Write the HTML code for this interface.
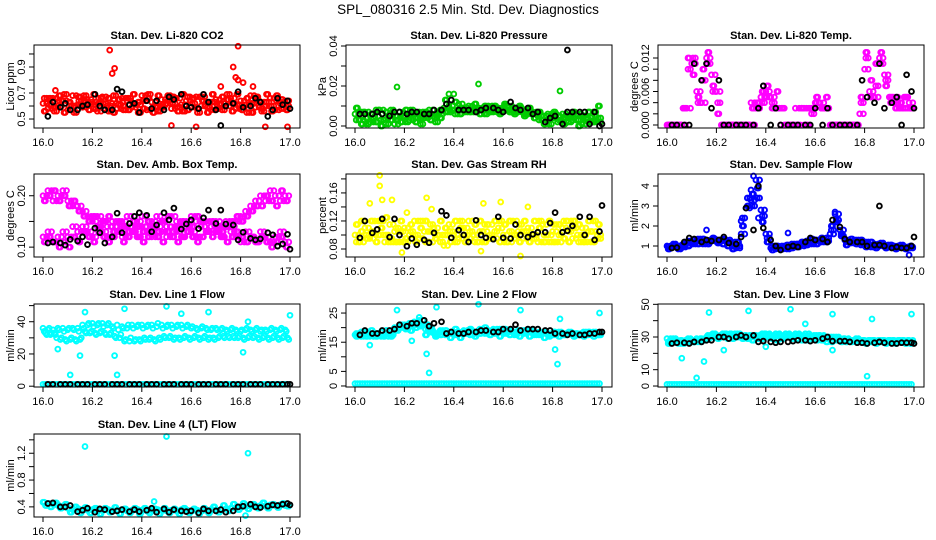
<!DOCTYPE html>
<html><head><meta charset="utf-8"><style>
html,body{margin:0;padding:0;background:#fff;}
svg{display:block;font-family:"Liberation Sans",sans-serif;}
</style></head><body>
<svg id="chart" width="936" height="540" viewBox="0 0 936 540" xmlns="http://www.w3.org/2000/svg">
<rect x="0" y="0" width="936" height="540" fill="#fff"/>
<text x="468" y="14" text-anchor="middle" font-size="13.5">SPL_080316  2.5 Min. Std. Dev. Diagnostics</text>
</svg>
<script>
const gridX=[16.00,16.02,16.04,16.06,16.08,16.10,16.12,16.14,16.16,16.18,16.20,16.22,16.24,16.26,16.28,16.30,16.32,16.34,16.36,16.38,16.40,16.42,16.44,16.46,16.48,16.50,16.52,16.54,16.56,16.58,16.60,16.62,16.64,16.66,16.68,16.70,16.72,16.74,16.76,16.78,16.80,16.82,16.84,16.86,16.88,16.90,16.92,16.94,16.96,16.98];
const gridX2=[16.01,16.03,16.05,16.07,16.09,16.11,16.13,16.15,16.17,16.19,16.21,16.23,16.25,16.27,16.29,16.31,16.33,16.35,16.37,16.39,16.41,16.43,16.45,16.47,16.49,16.51,16.53,16.55,16.57,16.59,16.61,16.63,16.65,16.67,16.69,16.71,16.73,16.75,16.77,16.79,16.81,16.83,16.85,16.87,16.89,16.91,16.93,16.95,16.97,16.99];
const gridX3=[16.005,16.025,16.045,16.065,16.085,16.105,16.125,16.145,16.165,16.185,16.205,16.225,16.245,16.265,16.285,16.305,16.325,16.345,16.365,16.385,16.405,16.425,16.445,16.465,16.485,16.505,16.525,16.545,16.565,16.585,16.605,16.625,16.645,16.665,16.685,16.705,16.725,16.745,16.765,16.785,16.805,16.825,16.845,16.865,16.885,16.905,16.925,16.945,16.965,16.985];
const gridX4=[16.015,16.035,16.055,16.075,16.095,16.115,16.135,16.155,16.175,16.195,16.215,16.235,16.255,16.275,16.295,16.315,16.335,16.355,16.375,16.395,16.415,16.435,16.455,16.475,16.495,16.515,16.535,16.555,16.575,16.595,16.615,16.635,16.655,16.675,16.695,16.715,16.735,16.755,16.775,16.795,16.815,16.835,16.855,16.875,16.895,16.915,16.935,16.955,16.975,16.995];
const blackX=[16.02,16.04,16.07,16.09,16.11,16.14,16.16,16.18,16.21,16.23,16.25,16.28,16.30,16.32,16.35,16.37,16.39,16.42,16.44,16.46,16.49,16.51,16.53,16.56,16.58,16.60,16.63,16.65,16.67,16.70,16.72,16.74,16.77,16.79,16.81,16.84,16.86,16.88,16.91,16.93,16.95,16.97,16.99,17.00];
const xTicks=[16.0,16.2,16.4,16.6,16.8,17.0];
const xTickLabels=["16.0","16.2","16.4","16.6","16.8","17.0"];

const co2A=[0.62,0.58,0.66,0.60,0.64,0.57,0.68,0.61,0.59,0.65,0.63,0.56,0.67,0.60,0.62,0.58,0.66,0.64,0.59,0.61,0.68,0.57,0.63,0.60,0.65,0.62,0.58,0.66,0.61,0.64,0.59,0.67,0.60,0.63,0.57,0.65,0.62,0.60,0.66,0.58,0.64,0.61,0.68,0.59,0.63,0.60,0.66,0.57,0.62,0.64];
const co2B=[0.56,0.66,0.59,0.68,0.55,0.63,0.60,0.67,0.64,0.57,0.69,0.62,0.58,0.66,0.55,0.65,0.60,0.57,0.69,0.63,0.58,0.66,0.55,0.68,0.59,0.64,0.67,0.56,0.69,0.57,0.66,0.58,0.64,0.55,0.69,0.58,0.67,0.65,0.56,0.69,0.57,0.66,0.55,0.67,0.58,0.69,0.56,0.68,0.65,0.57];
const co2C=[0.66,0.61,0.56,0.64,0.69,0.60,0.55,0.64,0.68,0.61,0.58,0.66,0.62,0.56,0.68,0.61,0.57,0.66,0.62,0.55,0.64,0.69,0.59,0.56,0.61,0.68,0.62,0.59,0.56,0.67,0.62,0.55,0.67,0.59,0.63,0.61,0.57,0.69,0.62,0.61,0.59,0.55,0.62,0.64,0.56,0.63,0.60,0.64,0.58,0.60];
const co2OutX=[16.27,16.28,16.29,16.77,16.79,16.78,16.79,16.81,16.85,16.62,16.90,16.99,16.52,16.72,16.05];
const co2OutY=[1.03,0.85,0.89,0.90,1.06,0.82,0.80,0.78,0.75,0.44,0.44,0.44,0.45,0.75,0.72];
const co2Black=[0.52,0.63,0.59,0.62,0.57,0.57,0.60,0.61,0.69,0.60,0.57,0.57,0.73,0.71,0.61,0.62,0.55,0.64,0.58,0.64,0.57,0.67,0.65,0.69,0.60,0.59,0.58,0.69,0.63,0.57,0.45,0.60,0.62,0.71,0.59,0.60,0.66,0.63,0.52,0.57,0.66,0.61,0.64,0.58];

const presA=[0.006,0.003,0.007,0.002,0.005,0.008,0.004,0.006,0.001,0.007,0.005,0.003,0.006,0.007,0.004,0.008,0.005,0.006,0.009,0.010,0.008,0.011,0.009,0.010,0.007,0.009,0.008,0.010,0.007,0.009,0.008,0.010,0.009,0.007,0.008,0.006,0.007,0.005,0.003,0.006,0.004,0.002,0.006,0.005,0.003,0.006,0.001,0.004,0.005,0.002];
const presB=[0.009,0.001,0.004,0.006,0.002,0.000,0.007,0.003,0.005,0.002,0.008,0.006,0.002,0.004,0.007,0.003,0.006,0.004,0.013,0.007,0.012,0.006,0.008,0.007,0.011,0.006,0.010,0.007,0.010,0.006,0.011,0.007,0.006,0.010,0.005,0.009,0.004,0.007,0.001,0.003,0.007,0.005,0.001,0.004,0.007,0.000,0.005,0.007,0.002,0.010];
const presC=[0.003,0.007,0.001,0.004,0.008,0.003,0.001,0.008,0.003,0.005,0.002,0.008,0.004,0.001,0.006,0.005,0.002,0.008,0.007,0.008,0.006,0.009,0.007,0.008,0.009,0.008,0.006,0.008,0.009,0.007,0.010,0.008,0.007,0.009,0.006,0.007,0.006,0.003,0.005,0.001,0.006,0.003,0.004,0.002,0.006,0.003,0.004,0.002,0.007,0.004];
const presOutX=[16.17,16.50,16.83,16.40,16.38];
const presOutY=[0.0195,0.021,0.0175,0.016,0.016];
const presBlack=[0.006,0.006,0.006,0.007,0.006,0.005,0.007,0.007,0.006,0.007,0.007,0.006,0.006,0.008,0.008,0.011,0.013,0.008,0.008,0.008,0.007,0.008,0.009,0.009,0.008,0.007,0.012,0.009,0.008,0.009,0.006,0.007,0.002,0.004,0.005,0.001,0.007,0.007,0.007,0.007,0.001,0.007,0.000,0.001];
const presBlackOutX=[16.86];
const presBlackOutY=[0.038];

const ltA=[0,0,0,0,0.003,0.011,0.006,0.004,0.012,0.009,0.006,0,0,0,0,0,0,0.004,0.003,0.005,0.006,0.005,0.003,0,0,0,0.003,0,0,0.003,0.004,0.004,0.003,0,0,0,0,0,0,0.002,0.010,0.006,0.005,0.012,0.009,0.005,0.004,0.003,0.005,0.004];
const ltB=[0,0,0,0.003,0.012,0.009,0.005,0.010,0.013,0.007,0.002,0,0,0,0,0,0,0.003,0.004,0.006,0.007,0.003,0.006,0.003,0,0,0,0.003,0,0.003,0.005,0.003,0.005,0,0,0,0,0,0,0.005,0.013,0.008,0.011,0.013,0.007,0.005,0.003,0.004,0.005,0.003];
const ltC=[0,0,0,0.003,0.010,0.012,0.004,0.008,0.011,0.006,0.004,0,0,0,0,0,0,0,0.003,0.004,0.005,0.004,0.003,0.003,0,0,0,0.003,0.003,0.002,0.004,0.003,0.003,0,0,0,0,0,0,0.004,0.012,0.005,0.007,0.011,0.008,0.004,0.005,0.003,0.003,0.003];
const ltBlack=[0,0,0,0,0.011,0.008,0.011,0.003,0.008,0,0,0,0,0,0,0.003,0.007,0,0.003,0,0,0,0,0,0,0.003,0,0.003,0,0,0,0,0,0.008,0.005,0.004,0.011,0.003,0.004,0.005,0,0.009,0.006,0.003];

const btA=[0.20,0.21,0.19,0.20,0.21,0.19,0.18,0.18,0.17,0.16,0.15,0.16,0.15,0.14,0.15,0.14,0.15,0.16,0.14,0.15,0.16,0.14,0.15,0.16,0.15,0.14,0.16,0.15,0.14,0.15,0.16,0.15,0.14,0.15,0.14,0.15,0.14,0.15,0.14,0.15,0.16,0.17,0.18,0.19,0.20,0.19,0.21,0.20,0.19,0.20];
const btB=[0.11,0.12,0.11,0.10,0.11,0.10,0.12,0.11,0.13,0.12,0.11,0.13,0.12,0.11,0.12,0.13,0.11,0.12,0.13,0.12,0.11,0.12,0.13,0.12,0.11,0.13,0.12,0.11,0.12,0.13,0.12,0.11,0.12,0.13,0.12,0.13,0.12,0.11,0.12,0.13,0.12,0.11,0.12,0.11,0.12,0.11,0.10,0.11,0.12,0.10];
const btC=[0.12,0.13,0.11,0.12,0.13,0.12,0.14,0.13,0.14,0.13,0.12,0.14,0.13,0.12,0.14,0.13,0.12,0.14,0.13,0.12,0.14,0.13,0.12,0.14,0.13,0.12,0.14,0.13,0.12,0.14,0.13,0.12,0.14,0.13,0.14,0.13,0.12,0.14,0.13,0.12,0.11,0.13,0.12,0.11,0.13,0.12,0.11,0.12,0.13,0.11];
const btD=[0.19,0.20,0.21,0.19,0.20,0.18,0.19,0.17,0.16,0.15,0.16,0.14,0.15,0.16,0.13,0.15,0.14,0.13,0.15,0.14,0.13,0.15,0.14,0.13,0.15,0.16,0.13,0.14,0.15,0.13,0.14,0.16,0.15,0.13,0.15,0.14,0.13,0.14,0.15,0.16,0.15,0.16,0.17,0.18,0.18,0.20,0.19,0.18,0.21,0.19];
const btBlack=[0.108,0.11,0.108,0.104,0.115,0.112,0.12,0.105,0.137,0.128,0.108,0.12,0.166,0.128,0.146,0.16,0.167,0.162,0.13,0.143,0.167,0.153,0.176,0.135,0.145,0.153,0.136,0.157,0.172,0.146,0.172,0.145,0.143,0.114,0.129,0.117,0.114,0.116,0.128,0.124,0.102,0.106,0.125,0.096];

const rhA=[0.10,0.09,0.11,0.095,0.12,0.10,0.09,0.115,0.105,0.09,0.11,0.10,0.12,0.095,0.105,0.09,0.11,0.10,0.085,0.115,0.10,0.095,0.11,0.12,0.10,0.09,0.105,0.115,0.095,0.11,0.10,0.09,0.12,0.105,0.095,0.11,0.10,0.09,0.115,0.10,0.105,0.09,0.11,0.12,0.095,0.10,0.11,0.09,0.105,0.10];
const rhB=[0.115,0.105,0.095,0.12,0.09,0.11,0.125,0.095,0.09,0.12,0.095,0.115,0.09,0.11,0.12,0.105,0.095,0.12,0.11,0.09,0.12,0.11,0.09,0.095,0.115,0.12,0.09,0.095,0.12,0.09,0.115,0.12,0.095,0.09,0.12,0.09,0.12,0.11,0.09,0.12,0.09,0.115,0.095,0.09,0.12,0.115,0.09,0.12,0.09,0.115];
const rhC=[0.09,0.12,0.10,0.105,0.10,0.12,0.10,0.09,0.11,0.105,0.09,0.105,0.10,0.12,0.09,0.115,0.10,0.09,0.10,0.105,0.09,0.12,0.10,0.105,0.09,0.105,0.115,0.10,0.105,0.12,0.09,0.105,0.10,0.115,0.105,0.10,0.095,0.12,0.10,0.09,0.115,0.10,0.12,0.105,0.11,0.09,0.10,0.105,0.12,0.095];
const rhOutX=[16.10,16.10,16.11,16.15,16.29,16.06,16.52,16.59,16.70,16.67,16.19,16.51,16.31,16.21];
const rhOutY=[0.185,0.17,0.15,0.15,0.153,0.145,0.145,0.147,0.14,0.07,0.075,0.077,0.137,0.132];
const rhBlack=[0.096,0.12,0.103,0.108,0.123,0.097,0.123,0.1,0.084,0.095,0.086,0.093,0.089,0.103,0.134,0.128,0.096,0.107,0.1,0.09,0.121,0.1,0.096,0.094,0.126,0.096,0.095,0.115,0.1,0.097,0.101,0.104,0.104,0.117,0.132,0.104,0.106,0.113,0.126,0.1,0.126,0.093,0.105,0.142];

const sfA=[1.0,0.95,1.0,1.05,1.15,1.2,1.25,1.2,1.3,1.25,1.3,1.25,1.3,1.2,0.9,1.6,2.9,3.3,4.3,2.8,1.6,0.9,0.85,0.9,0.95,1.0,1.05,1.0,1.15,1.2,1.25,1.3,1.25,1.6,2.6,1.8,1.3,1.25,1.2,1.15,1.1,1.05,1.1,1.0,1.05,0.95,1.0,0.95,0.9,0.95];
const sfB=[0.85,1.05,0.9,1.1,1.0,1.3,1.1,1.35,1.1,1.4,1.15,1.1,1.0,0.85,1.2,2.0,3.0,3.6,3.9,2.2,1.2,0.8,1.0,0.85,1.05,0.9,1.1,1.2,1.05,1.35,1.1,1.4,1.2,2.0,2.2,1.6,1.05,1.35,1.1,1.3,0.95,1.2,0.9,1.1,0.9,1.05,0.85,1.0,0.85,1.0];
const sfC=[0.95,1.1,0.85,0.95,1.25,1.1,1.35,1.1,1.2,1.35,1.2,1.35,1.2,1.0,1.0,2.4,3.4,3.0,3.4,2.5,1.4,1.0,0.9,1.0,0.85,1.1,0.95,1.1,1.25,1.1,1.3,1.2,1.4,1.8,2.3,1.5,1.2,1.15,1.3,1.05,1.2,0.95,1.0,1.15,0.95,1.0,0.9,1.05,0.95,0.9];
const sfOutX=[16.16,16.49,16.34,16.35,16.37,16.98,16.30,16.68];
const sfOutY=[1.8,1.65,3.8,4.5,2.4,0.55,2.25,2.7];
const sfBlack=[0.9,0.92,1.2,1.4,1.35,1.2,1.3,1.25,1.3,1.45,1.15,1.1,1.45,2.9,1.8,4.0,1.9,1.3,1.0,0.8,0.95,1.0,0.95,1.2,1.4,1.3,1.35,1.2,2.3,1.95,1.35,1.2,1.2,1.2,1.0,1.05,1.05,1.0,0.9,0.95,0.9,0.9,1.0,1.45];
const sfBlackOutX=[16.86];
const sfBlackOutY=[3.0];

const l1A=[36,35,35,36,36,35,36,36,38,38,39,38,39,38,37,38,37,36,38,37,38,37,38,37,38,37,38,37,38,37,36,36,36,36,35,36,35,35,35,35,34,35,35,35,34,35,35,35,35,35];
const l1B=[33,32,32,29,29,29,29,29,34,33,33,33,33,32,31,30,28,28,28,29,30,29,29,30,31,30,29,30,30,30,30,30,30,29,30,30,31,31,31,30,30,30,30,30,30,30,30,30,30,30];
const l1C=[34,36,33,35,34,36,35,34,36,39,37,39,37,39,36,35,36,38,36,38,36,38,36,39,36,38,36,38,36,38,37,35,37,35,36,35,36,34,36,34,35,36,34,36,35,34,36,34,36,34];
const l1D=[32,33,30,30,28,30,28,30,33,34,32,34,32,33,30,32,29,30,29,28,29,30,28,29,30,31,30,29,31,29,31,29,31,30,29,31,30,30,30,31,29,31,31,29,31,29,31,29,31,29];
const l1Base=[1.2,1.2,1.2,1.2,1.2,1.2,1.2,1.2,1.2,1.2,1.2,1.2,1.2,1.2,1.2,1.2,1.2,1.2,1.2,1.2,1.2,1.2,1.2,1.2,1.2,1.2,1.2,1.2,1.2,1.2,1.2,1.2,1.2,1.2,1.2,1.2,1.2,1.2,1.2,1.2,1.2,1.2,1.2,1.2,1.2,1.2,1.2,1.2,1.2,1.2];
const l1OutX=[16.17,16.33,16.50,16.56,16.67,17.0,16.06,16.15,16.29,16.11,16.30,16.81,16.83];
const l1OutY=[46,48,49.5,45,46,44,23,19,19,7,7,21,40];
const l1Black=[1.2,1.2,1.2,1.2,1.2,1.2,1.2,1.2,1.2,1.2,1.2,1.2,1.2,1.2,1.2,1.2,1.2,1.2,1.2,1.2,1.2,1.2,1.2,1.2,1.2,1.2,1.2,1.2,1.2,1.2,1.2,1.2,1.2,1.2,1.2,1.2,1.2,1.2,1.2,1.2,1.2,1.2,1.2,1.2];

const l2A=[17.5,17.5,18,17,17.5,17.5,17,18,20,20.5,21,21.5,22,22.5,21,19,18,18.5,18,18,18.5,18.5,19,19,18.5,19,19,19,19.5,19,18.5,18.5,18.5,19,18.5,18.5,18,18,18,18,18,18,18,18,17.5,18,18,18,18,18];
const l2B=[17,18.5,17,19,17,18.5,19,17,19.5,21,20.5,19,20,20.5,17.5,20,17,17.5,19,16.5,19.5,16.5,18,19.5,17,18,20,17.5,18.5,17,19.5,17.5,18,17,19,17,18,18.5,16.5,17,18.5,17,17.5,18,17,17.5,17,18.5,17,17.5];
const l2C=[18,17,18.5,17.5,18,17,18,17.5,19,20,19.5,20.5,21,21,19.5,18.5,17.5,19,17.5,18.5,17.5,18,18.5,17.5,18,19.5,18,18.5,18,19.5,18,19,17.5,18.5,18,19,17.5,17.5,18.5,17.5,17.5,18.5,17.5,18.5,18,17.5,18.5,17.5,18.5,17.5];
const l2Base=[0.8,0.8,0.8,0.8,0.8,0.8,0.8,0.8,0.8,0.8,0.8,0.8,0.8,0.8,0.8,0.8,0.8,0.8,0.8,0.8,0.8,0.8,0.8,0.8,0.8,0.8,0.8,0.8,0.8,0.8,0.8,0.8,0.8,0.8,0.8,0.8,0.8,0.8,0.8,0.8,0.8,0.8,0.8,0.8,0.8,0.8,0.8,0.8,0.8,0.8];
const l2OutX=[16.17,16.33,16.50,16.67,16.83,16.99,16.29,16.30,16.81,16.82,16.06,16.23,16.26];
const l2OutY=[26,27,28,26,23,25,11,4.5,12.5,7.5,14,15.5,23.5];
const l2Black=[17.5,19,18,18,19,19,19.5,21,20.5,21.5,21.5,22.5,20.5,21.5,22,18,18.5,18,18,18.5,18.5,19,19,18.5,18.5,19.5,19.5,21,19,19.5,19.5,19.5,19,19,18,18,17.5,18,17.5,17.5,18,18,18.5,18.5];

const l3A=[29,28,28,28,28,28,29,29,30,31,31,31,32,32,31,31,31,31,31,31,32,31,32,31,32,31,32,31,32,31,30,31,30,29,29,29,29,28,28,28,28,28,28,28,28,28,28,28,28,28];
const l3B=[26,27,27,26,27,27,28,28,29,30,29,30,29,29,30,29,29,28,29,29,30,29,28,29,30,29,29,28,28,29,28,28,27,27,28,27,27,27,27,27,26,27,26,27,26,27,26,27,26,26];
const l3C=[27,29,26,27,29,27,27,28,31,32,30,32,31,30,32,30,30,30,30,32,31,30,31,30,31,30,31,30,30,30,31,29,29,30,30,28,28,28,29,28,27,28,27,28,27,28,27,28,27,27];
const l3Base=[1,1,1,1,1,1,1,1,1,1,1,1,1,1,1,1,1,1,1,1,1,1,1,1,1,1,1,1,1,1,1,1,1,1,1,1,1,1,1,1,1,1,1,1,1,1,1,1,1,1];
const l3OutX=[16.17,16.33,16.50,16.67,16.83,16.99,16.56,16.06,16.15,16.12,16.23,16.67,16.81,16.40];
const l3OutY=[45,46,47,44,41,44,38,17,15,5,22,22,6,24];
const l3Black=[26,26.5,26.5,26,27,27,28,28,30,30,29,30,31,30,31,27,27.5,27,26.5,27,27,27.5,28,28,27.5,28,29,30,27.5,27.5,27.5,27,26.5,26.5,26,26.5,27,26.5,26,26,26.5,26.5,26.5,26];

const l4A=[0.47,0.45,0.44,0.42,0.40,0.38,0.36,0.37,0.36,0.35,0.36,0.34,0.35,0.36,0.34,0.35,0.36,0.34,0.35,0.36,0.35,0.34,0.35,0.36,0.35,0.34,0.35,0.34,0.36,0.35,0.34,0.35,0.34,0.35,0.36,0.35,0.36,0.37,0.38,0.39,0.40,0.41,0.42,0.41,0.42,0.41,0.43,0.42,0.43,0.42];
const l4B=[0.42,0.40,0.46,0.38,0.44,0.32,0.40,0.31,0.39,0.31,0.38,0.30,0.38,0.32,0.39,0.30,0.37,0.31,0.38,0.30,0.38,0.31,0.37,0.30,0.38,0.31,0.37,0.30,0.38,0.31,0.37,0.30,0.38,0.31,0.40,0.32,0.42,0.34,0.44,0.36,0.45,0.37,0.44,0.38,0.46,0.38,0.44,0.39,0.45,0.41];
const l4OutX=[16.17,16.50,16.83,16.45,16.82];
const l4OutY=[1.3,1.45,1.2,0.48,0.27];
const l4Black=[0.45,0.46,0.4,0.4,0.42,0.33,0.35,0.38,0.32,0.37,0.36,0.33,0.34,0.36,0.33,0.36,0.33,0.35,0.38,0.32,0.37,0.32,0.36,0.34,0.33,0.34,0.31,0.37,0.34,0.34,0.36,0.32,0.34,0.40,0.41,0.44,0.40,0.39,0.41,0.43,0.42,0.44,0.45,0.43];

const NS="http://www.w3.org/2000/svg";
const svg=document.getElementById('chart');
function mk(tag,attrs,parent){const e=document.createElementNS(NS,tag);for(const k in attrs)e.setAttribute(k,attrs[k]);(parent||svg).appendChild(e);return e;}

const panels=[
 {name:'co2',title:'Stan. Dev. Li-820 CO2',ylab:'Licor ppm',col:0,row:0,lo:0.431,hi:1.069,ticks:[0.5,0.6,0.7,0.8,0.9,1.0],labels:['0.5','','0.7','','0.9',''],color:'#ff0000',
  series:[[gridX,co2A],[gridX2,co2B],[gridX3,co2C],[gridX4,co2A],[gridX3,co2B],[gridX4,co2C],[co2OutX,co2OutY]],black:[[blackX,co2Black]]},
 {name:'pressure',title:'Stan. Dev. Li-820 Pressure',ylab:'kPa',col:1,row:0,lo:-0.001,hi:0.0405,ticks:[0,0.01,0.02,0.03,0.04],labels:['0.00','','0.02','','0.04'],color:'#00cc00',
  series:[[gridX,presA],[gridX2,presB],[gridX3,presC],[gridX4,presA],[gridX3,presB],[gridX4,presC],[presOutX,presOutY]],black:[[blackX,presBlack],[presBlackOutX,presBlackOutY]]},
 {name:'li820-temp',title:'Stan. Dev. Li-820 Temp.',ylab:'degrees C',col:2,row:0,lo:-0.00054,hi:0.01433,ticks:[0,0.002,0.004,0.006,0.008,0.010,0.012],labels:['0.000','','','0.006','','','0.012'],color:'#ff00ff',
  series:[[gridX,ltA],[gridX2,ltB],[gridX3,ltC],[gridX4,ltA],[gridX3,ltB],[gridX4,ltC]],black:[[blackX,ltBlack]]},
 {name:'box-temp',title:'Stan. Dev. Amb. Box Temp.',ylab:'degrees C',col:0,row:1,lo:0.0808,hi:0.2423,ticks:[0.10,0.15,0.20],labels:['0.10','','0.20'],color:'#ff00ff',
  series:[[gridX,btA],[gridX2,btB],[gridX,btC],[gridX3,btD],[gridX4,btA],[gridX3,btB],[gridX4,btC],[gridX2,btD]],black:[[blackX,btBlack]]},
 {name:'rh',title:'Stan. Dev. Gas Stream RH',ylab:'percent',col:1,row:1,lo:0.0686,hi:0.187,ticks:[0.08,0.10,0.12,0.14,0.16,0.18],labels:['0.08','','0.12','','0.16',''],color:'#ffff00',
  series:[[gridX,rhA],[gridX2,rhB],[gridX3,rhC],[gridX4,rhA],[gridX3,rhB],[gridX4,rhC],[rhOutX,rhOutY]],black:[[blackX,rhBlack]]},
 {name:'sample-flow',title:'Stan. Dev. Sample Flow',ylab:'ml/min',col:2,row:1,lo:0.45,hi:4.6,ticks:[1,2,3,4],labels:['1','2','3','4'],color:'#0000ff',
  series:[[gridX,sfA],[gridX2,sfB],[gridX3,sfC],[gridX4,sfA],[gridX3,sfB],[gridX4,sfC],[sfOutX,sfOutY]],black:[[blackX,sfBlack],[sfBlackOutX,sfBlackOutY]]},
 {name:'line1',title:'Stan. Dev. Line 1 Flow',ylab:'ml/min',col:0,row:2,lo:-0.5,hi:51,ticks:[0,10,20,30,40,50],labels:['0','','20','','40',''],color:'#00ffff',
  series:[[gridX,l1A],[gridX2,l1B],[gridX3,l1C],[gridX4,l1D],[gridX,l1Base],[gridX2,l1Base],[l1OutX,l1OutY]],black:[[blackX,l1Black]]},
 {name:'line2',title:'Stan. Dev. Line 2 Flow',ylab:'ml/min',col:1,row:2,lo:-0.35,hi:28.1,ticks:[0,5,10,15,20,25],labels:['0','5','','15','','25'],color:'#00ffff',
  series:[[gridX,l2A],[gridX2,l2B],[gridX3,l2C],[gridX4,l2A],[gridX3,l2B],[gridX4,l2C],[gridX,l2Base],[gridX2,l2Base],[l2OutX,l2OutY]],black:[[blackX,l2Black]]},
 {name:'line3',title:'Stan. Dev. Line 3 Flow',ylab:'ml/min',col:2,row:2,lo:-0.6,hi:50.2,ticks:[0,10,20,30,40,50],labels:['0','10','','30','','50'],color:'#00ffff',
  series:[[gridX,l3A],[gridX2,l3B],[gridX3,l3C],[gridX4,l3A],[gridX3,l3B],[gridX4,l3C],[gridX,l3Base],[gridX2,l3Base],[l3OutX,l3OutY]],black:[[blackX,l3Black]]},
 {name:'line4',title:'Stan. Dev. Line 4 (LT) Flow',ylab:'ml/min',col:0,row:3,lo:0.249,hi:1.487,ticks:[0.4,0.6,0.8,1.0,1.2,1.4],labels:['0.4','','0.8','','1.2',''],color:'#00ffff',
  series:[[gridX,l4A],[gridX2,l4B],[gridX3,l4A],[gridX4,l4B],[l4OutX,l4OutY]],black:[[blackX,l4Black]]}
];
const rowTops=[45,174,304,434];

panels.forEach(p=>{
  const bx0=34+312*p.col, bx1=300+312*p.col;
  const by0=rowTops[p.row], by1=by0+83;
  const tx0=43+312*p.col, tx1=290+312*p.col;
  const xs=v=>tx0+(v-16)*(tx1-tx0);
  const ys=v=>by1-(v-p.lo)/(p.hi-p.lo)*(by1-by0);
  const g=mk('g',{});
  
  
  const t=mk('text',{x:(bx0+bx1)/2,y:by0-6,'text-anchor':'middle','font-size':'11','font-weight':'bold'},g);
  
  
  t.textContent=p.title;
  const pts=mk('g',{fill:'none','stroke-width':'1.9'},g);
  
  
  p.series.forEach(s=>{
    s[0].forEach((xv,i)=>{
      const c=mk('circle',{cx:xs(xv).toFixed(1),cy:ys(s[1][i]).toFixed(1),r:'2.4',stroke:p.color},pts);
      
      
    });
  });
  p.black.forEach(s=>{
    s[0].forEach((xv,i)=>{
      const c=mk('circle',{cx:xs(xv).toFixed(1),cy:ys(s[1][i]).toFixed(1),r:'2.4',stroke:'#000'},pts);
      
      
    });
  });
  const box=mk('rect',{x:bx0,y:by0,width:bx1-bx0,height:by1-by0,fill:'none',stroke:'#000','stroke-width':'1'},g);
  
  
  const xa=mk('g',{},g);
  
  
  xTicks.forEach((v,i)=>{
    const X=xs(v);
    mk('line',{x1:X,x2:X,y1:by1,y2:by1+5,stroke:'#000'},xa);
    const tl=mk('text',{x:X,y:by1+18,'text-anchor':'middle','font-size':'11'},xa);
    
    
    tl.textContent=xTickLabels[i];
  });
  const ya=mk('g',{},g);
  
  
  p.ticks.forEach((v,i)=>{
    const Y=ys(v);
    mk('line',{x1:bx0-5,x2:bx0,y1:Y,y2:Y,stroke:'#000'},ya);
    if(p.labels[i]){
      const tl=mk('text',{x:bx0-9,y:Y,'text-anchor':'middle','font-size':'11',transform:`rotate(-90 ${bx0-9} ${Y})`},ya);
      
      
      tl.textContent=p.labels[i];
    }
  });
  const yl=mk('text',{x:bx0-20,y:(by0+by1)/2,'text-anchor':'middle','font-size':'11',transform:`rotate(-90 ${bx0-20} ${(by0+by1)/2})`},g);
  
  
  yl.textContent=p.ylab;
});
</script>
</body></html>
